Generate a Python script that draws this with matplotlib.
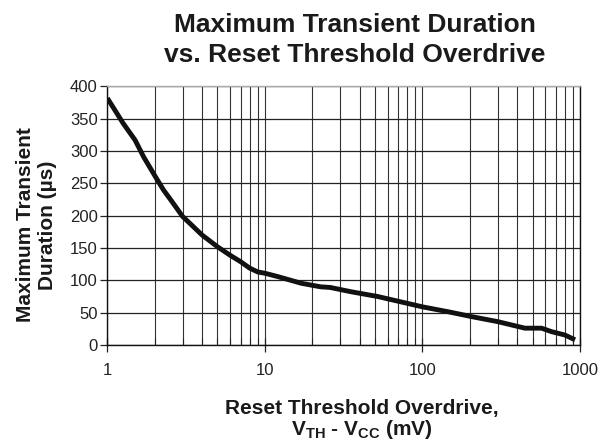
import matplotlib
matplotlib.use("Agg")
import matplotlib.pyplot as plt
from matplotlib.ticker import LogLocator, FixedLocator, NullFormatter, FixedFormatter

plt.rcParams['font.family'] = ['Liberation Sans', 'DejaVu Sans']
plt.rcParams['mathtext.fontset'] = 'custom'
plt.rcParams['mathtext.rm'] = 'Liberation Sans:bold'
plt.rcParams['mathtext.bf'] = 'Liberation Sans:bold'

overdrive_mv = [1, 1.26, 1.5, 1.7, 2.0, 2.27, 2.57, 3, 4, 5, 6, 7, 8, 9, 10, 12, 17,
                22.6, 26, 35, 52, 100, 145, 204, 302, 447, 570, 660, 800, 930]
duration_us = [382, 343, 317, 291, 262, 240, 222, 199, 170, 152, 139, 129, 119, 113, 111,
               106, 95.5, 90, 89, 82.5, 75, 59, 51.5, 44, 36, 26, 26, 20.6, 15.5, 8]

y_ticks = [0, 50, 100, 150, 200, 250, 300, 350, 400]
x_major = [1, 10, 100, 1000]
x_major_labels = ['1', '10', '100', '1000']

fig = plt.figure(figsize=(6.11, 4.42), dpi=100)
ax = fig.add_axes([0.1757, 0.2195, 0.9493 - 0.1757, 0.8043 - 0.2195])

ax.plot(overdrive_mv, duration_us, color='#111111', lw=3.5, solid_capstyle='butt', zorder=3)
ax.set_xscale('log')
ax.set_xlim(1, 1000)
ax.set_ylim(0, 400)

ax.xaxis.set_major_locator(FixedLocator(x_major))
ax.xaxis.set_major_formatter(FixedFormatter(x_major_labels))
ax.xaxis.set_minor_locator(LogLocator(base=10, subs=range(2, 10)))
ax.xaxis.set_minor_formatter(NullFormatter())
ax.set_yticks(y_ticks)

ax.grid(True, which='both', axis='x', color='#333333', lw=0.8)
ax.grid(True, which='major', axis='y', color='#222222', lw=0.9)

ax.tick_params(axis='x', which='major', direction='inout', length=10, width=0.9,
               labelsize=12, colors='#222222', pad=8)
ax.tick_params(axis='x', which='minor', direction='in', length=5, width=0.8, colors='#222222')
ax.tick_params(axis='y', which='major', direction='out', length=5, width=0.9,
               labelsize=12, colors='#222222', pad=2)

for s in ['left', 'bottom', 'right']:
    ax.spines[s].set_color('#111111')
    ax.spines[s].set_linewidth(1.0)
ax.spines['top'].set_color('#aaaaaa')
ax.spines['top'].set_linewidth(1.0)

fig.text(355 / 611, 1 - 32 / 442, 'Maximum Transient Duration',
         ha='center', va='baseline', fontsize=19, fontweight='bold', color='#1a1a1a')
fig.text(355 / 611, 1 - 62 / 442, 'vs. Reset Threshold Overdrive',
         ha='center', va='baseline', fontsize=19, fontweight='bold', color='#1a1a1a')

fig.text(362 / 611, 1 - 414 / 442, 'Reset Threshold Overdrive,',
         ha='center', va='baseline', fontsize=15, fontweight='bold', color='#1a1a1a')
fig.text(362 / 611, 1 - 435 / 442, '$\\mathbf{V_{TH}}$ - $\\mathbf{V_{CC}}$ (mV)',
         ha='center', va='baseline', fontsize=15, fontweight='bold', color='#1a1a1a')

fig.text(37 / 611, 1 - 225 / 442, 'Maximum Transient\nDuration (µs)',
         ha='center', va='center', rotation=90, fontsize=15, fontweight='bold',
         color='#1a1a1a', linespacing=1.2)

fig.savefig('out.png', dpi=100)
